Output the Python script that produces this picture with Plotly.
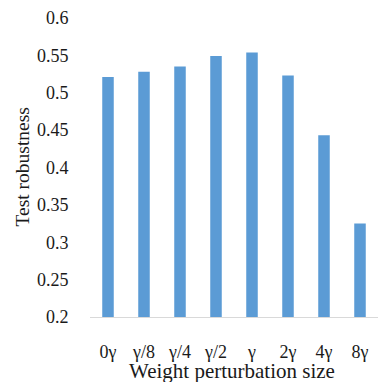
import plotly.graph_objects as go

categories = ["0γ", "γ/8", "γ/4", "γ/2", "γ", "2γ", "4γ", "8γ"]
robustness = [0.521, 0.528, 0.535, 0.549, 0.554, 0.523, 0.443, 0.325]
y_ticks = [0.2, 0.25, 0.3, 0.35, 0.4, 0.45, 0.5, 0.55, 0.6]
y_tick_text = ["0.2", "0.25", "0.3", "0.35", "0.4", "0.45", "0.5", "0.55", "0.6"]

font_family = "Liberation Serif"
text_color = "#1a1a1a"

fig = go.Figure(
    go.Bar(x=categories, y=robustness, marker=dict(color="#5B9BD5", line=dict(width=0)))
)

fig.update_layout(
    width=382, height=382,
    margin=dict(l=90, r=4, t=18, b=65, autoexpand=False),
    paper_bgcolor="white", plot_bgcolor="white",
    bargap=0.68,
    showlegend=False,
    font=dict(family=font_family, size=18, color=text_color),
    xaxis=dict(
        showgrid=False, showline=True, linecolor="#D9D9D9", linewidth=1,
        ticks="", ticklabelstandoff=18, automargin=False,
        tickfont=dict(family=font_family, size=18, color=text_color),
    ),
    yaxis=dict(
        range=[0.2, 0.6], tickvals=y_ticks, ticktext=y_tick_text,
        showgrid=False, showline=False, zeroline=False, automargin=False,
        ticks="outside", ticklen=17, tickcolor="rgba(0,0,0,0)",
        tickfont=dict(family=font_family, size=18, color=text_color),
    ),
    annotations=[
        dict(text="Weight perturbation size", xref="paper", yref="paper",
             x=0.5, y=0, xanchor="center", yanchor="middle", yshift=-54, xshift=-2,
             showarrow=False, font=dict(family=font_family, size=21, color=text_color)),
        dict(text="Test robustness", xref="paper", yref="paper",
             x=0, y=0.5, xanchor="center", yanchor="middle", xshift=-68,
             textangle=-90, showarrow=False, font=dict(family=font_family, size=19.5, color=text_color)),
    ],
)

fig.write_html(
    "out.html",
    config={"displayModeBar": False},
    post_script="document.body.style.margin='0';document.body.style.overflow='hidden';",
)
